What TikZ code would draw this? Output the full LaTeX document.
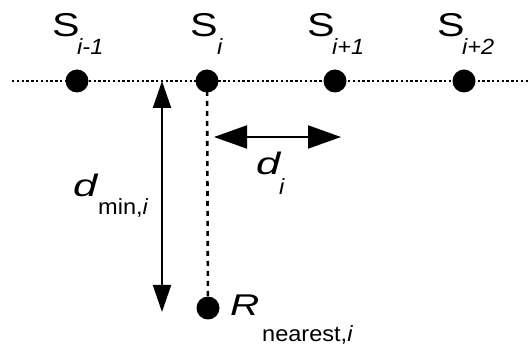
\documentclass[tikz,border=0pt]{standalone}
\usepackage{fontspec}
\setmainfont{Liberation Sans}
\usetikzlibrary{arrows.meta}
\newcommand{\wideS}[1]{\scalebox{1.25}[1]{#1}}
\newcommand{\wideD}[1]{\scalebox{1.4}[1]{#1}}
\newcommand{\wideR}[1]{\scalebox{1.35}[1]{#1}}
\newcommand{\wideSub}[1]{\scalebox{1.07}[1]{#1}}
\tikzset{
  pt/.style={circle,fill=black,inner sep=0pt,minimum size=23pt},
  bigS/.style={inner sep=0pt,anchor=base west,font=\fontsize{33}{33}\selectfont},
  bigD/.style={inner sep=0pt,anchor=base west,font=\fontsize{31}{31}\selectfont\itshape},
  bigR/.style={inner sep=0pt,anchor=base west,font=\fontsize{30}{30}\selectfont\itshape},
  sub/.style={inner sep=0pt,anchor=base west,font=\fontsize{22}{22}\selectfont},
  dotline/.style={line width=2.6pt,dash pattern=on 2.4pt off 2.4pt},
  dashline/.style={line width=2.6pt,dash pattern=on 5pt off 5pt},
  varrow/.style={line width=2pt,{Triangle[length=27pt,width=18pt]}-{Triangle[length=27pt,width=18pt]}},
  harrow/.style={line width=2pt,{Triangle[length=33pt,width=23pt]}-{Triangle[length=33pt,width=23pt]}}
}
\begin{document}
\begin{tikzpicture}[x=1pt,y=-1pt]
\useasboundingbox (0,0) rectangle (528,347);
% baseline
\coordinate (L) at (12,81);
\coordinate (Rt) at (528,81);
\draw[dotline] (L) -- (Rt);
% dots
\node[pt] (s1) at (77,81) {};
\node[pt] (s2) at (207,81) {};
\node[pt] (s3) at (335,81) {};
\node[pt] (s4) at (464,81) {};
\node[pt] (r) at (208,308) {};
\draw[dashline] (s2.center) -- (r);
% arrows
\coordinate (vt) at (162,81);
\coordinate (vb) at (162,312);
\draw[varrow] (vt) -- (vb);
\coordinate (ha) at (214,137);
\coordinate (hb) at (341,137);
\draw[harrow] (ha) -- (hb);
% labels
\node[bigS] (S1) at (52,37) {\wideS{S}};
\node[sub] (S1s) at (77,55) {\wideSub{\itshape i-1}};
\node[bigS] (S2) at (190,37) {\wideS{S}};
\node[sub] (S2s) at (217,55) {\wideSub{\itshape i}};
\node[bigS] (S3) at (307,37) {\wideS{S}};
\node[sub] (S3s) at (332,55) {\wideSub{\itshape i+1}};
\node[bigS] (S4) at (437,37) {\wideS{S}};
\node[sub] (S4s) at (462,55) {\wideSub{\itshape i+2}};
\node[bigD] (dm) at (73,197) {\wideD{d}};
\node[sub] (dms) at (98,215) {\wideSub{min,\textit{i}}};
\node[bigD] (di) at (256,175) {\wideD{d}};
\node[sub] (dis) at (279,195) {\wideSub{\itshape i}};
\node[bigR] (R) at (230,316) {\wideR{R}};
\node[sub] (Rs) at (262,342) {\wideSub{nearest,\textit{i}}};
\end{tikzpicture}
\end{document}
